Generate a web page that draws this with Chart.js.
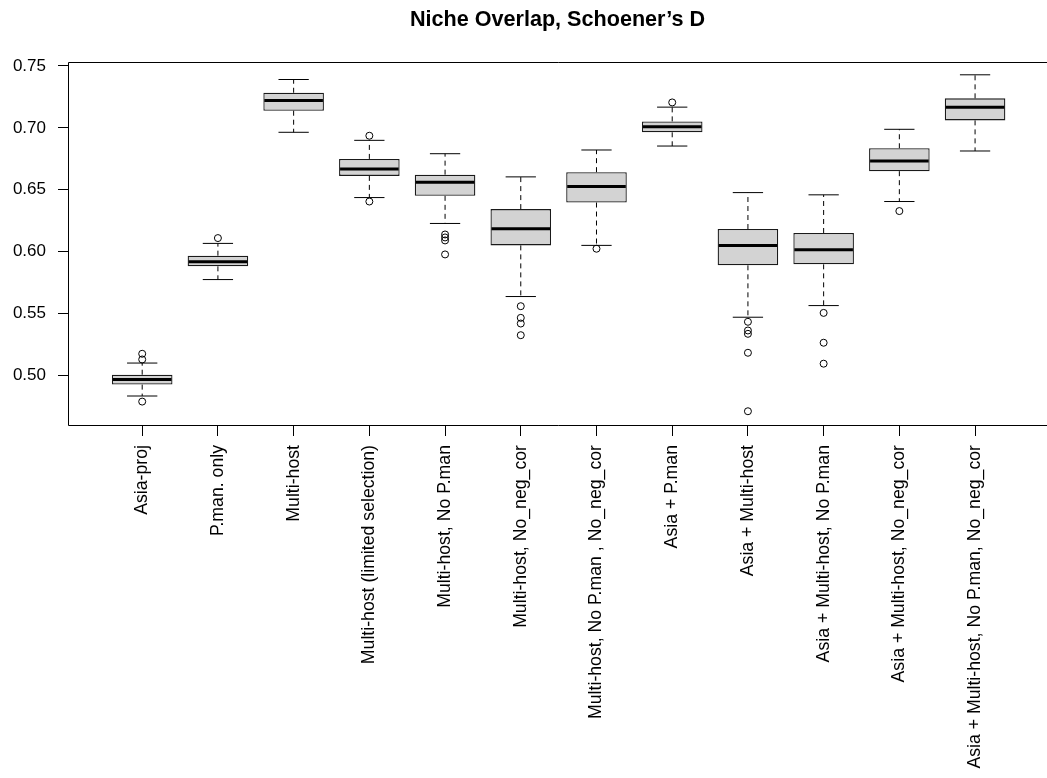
<!DOCTYPE html>
<html>
<head>
<meta charset="utf-8">
<script src="https://cdn.jsdelivr.net/npm/chart.js@4.4.1/dist/chart.umd.min.js"></script>
<style>
  html, body { margin: 0; padding: 0; background: #fff; }
  #wrap { width: 1047px; height: 778px; }
</style>
</head>
<body>
<div id="wrap"><canvas id="c" width="1047" height="778"></canvas></div>
<script>
const categories = [
  "Asia-proj",
  "P.man. only",
  "Multi-host",
  "Multi-host (limited selection)",
  "Multi-host, No P.man",
  "Multi-host, No_neg_cor",
  "Multi-host, No P.man , No_neg_cor",
  "Asia + P.man",
  "Asia + Multi-host",
  "Asia + Multi-host, No P.man",
  "Asia + Multi-host, No_neg_cor",
  "Asia + Multi-host, No P.man, No_neg_cor"
];
const whiskerLow  = [0.4835, 0.5775, 0.6964, 0.6437, 0.6228, 0.5638, 0.6051, 0.6853, 0.5471, 0.5565, 0.6405, 0.6813];
const q1          = [0.4927, 0.5882, 0.7138, 0.6612, 0.6451, 0.6051, 0.6397, 0.6964, 0.5890, 0.5898, 0.6650, 0.7060];
const medians     = [0.4969, 0.5919, 0.7221, 0.6668, 0.6561, 0.6185, 0.6526, 0.7009, 0.6051, 0.6016, 0.6733, 0.7167];
const q3          = [0.5007, 0.5968, 0.7283, 0.6749, 0.6622, 0.6344, 0.6642, 0.7052, 0.6183, 0.6151, 0.6835, 0.7238];
const whiskerHigh = [0.5101, 0.6067, 0.7390, 0.6899, 0.6791, 0.6604, 0.6821, 0.7167, 0.6477, 0.6459, 0.6988, 0.7428];
const outliers = [
  [0.5176, 0.5130, 0.4790],
  [0.6110],
  [],
  [0.6936, 0.6405],
  [0.6139, 0.6115, 0.6091, 0.5978],
  [0.5560, 0.5466, 0.5420, 0.5326],
  [0.6024],
  [0.7205],
  [0.5434, 0.5364, 0.5337, 0.5184, 0.4712],
  [0.5506, 0.5265, 0.5096],
  [0.6328],
  []
];
const yTickValues = [0.50, 0.55, 0.60, 0.65, 0.70, 0.75];
const titleText = "Niche Overlap, Schoener\u2019s D";

const FONT = "'Liberation Sans', Arial, sans-serif";

const boxData = categories.map((c, i) => ({ x: i + 1, y: [q1[i], q3[i]] }));
const outlierData = [];
outliers.forEach((arr, i) => arr.forEach(v => outlierData.push({ x: i + 1, y: v })));

const boxPlugin = {
  id: 'boxParts',
  afterDatasetsDraw(chart) {
    const ctx = chart.ctx;
    const xs = chart.scales.x, ys = chart.scales.y;
    const meta = chart.getDatasetMeta(0);
    ctx.save();
    categories.forEach((c, i) => {
      const bar = meta.data[i];
      const half = bar.width / 2;
      const cx = xs.getPixelForValue(i + 1);
      const capHalf = half / 2;
      const yLo = ys.getPixelForValue(whiskerLow[i]);
      const yHi = ys.getPixelForValue(whiskerHigh[i]);
      const yQ1 = ys.getPixelForValue(q1[i]);
      const yQ3 = ys.getPixelForValue(q3[i]);
      const yMed = ys.getPixelForValue(medians[i]);
      ctx.strokeStyle = '#000';
      ctx.lineWidth = 1;
      ctx.setLineDash([5, 4]);
      ctx.beginPath();
      ctx.moveTo(cx, yQ3); ctx.lineTo(cx, yHi);
      ctx.moveTo(cx, yQ1); ctx.lineTo(cx, yLo);
      ctx.stroke();
      ctx.setLineDash([]);
      ctx.beginPath();
      ctx.moveTo(cx - capHalf, yHi); ctx.lineTo(cx + capHalf, yHi);
      ctx.moveTo(cx - capHalf, yLo); ctx.lineTo(cx + capHalf, yLo);
      ctx.stroke();
      ctx.lineWidth = 3;
      ctx.lineCap = 'butt';
      ctx.beginPath();
      ctx.moveTo(cx - half + 1, yMed); ctx.lineTo(cx + half - 1, yMed);
      ctx.stroke();
    });
    const a = chart.chartArea;
    ctx.lineWidth = 1;
    ctx.strokeStyle = '#000';
    ctx.beginPath();
    ctx.moveTo(a.right + 2, Math.round(a.top) + 0.5);
    ctx.lineTo(Math.round(a.left) + 0.5, Math.round(a.top) + 0.5);
    ctx.lineTo(Math.round(a.left) + 0.5, Math.round(a.bottom) + 0.5);
    ctx.lineTo(a.right + 2, Math.round(a.bottom) + 0.5);
    ctx.stroke();
    ctx.restore();
  }
};

new Chart(document.getElementById('c'), {
  type: 'bar',
  data: {
    datasets: [
      {
        type: 'bar',
        label: 'box',
        data: boxData,
        backgroundColor: '#D3D3D3',
        borderColor: '#1a1a1a',
        borderWidth: 1.3,
        borderSkipped: false,
        barPercentage: 0.8,
        categoryPercentage: 1.0,
        order: 2
      },
      {
        type: 'scatter',
        label: 'outliers',
        data: outlierData,
        showLine: false,
        pointRadius: 3.5,
        pointHoverRadius: 3.5,
        pointBorderWidth: 1,
        pointBorderColor: '#000',
        pointBackgroundColor: 'rgba(0,0,0,0)',
        order: 1
      }
    ]
  },
  options: {
    responsive: false,
    animation: false,
    devicePixelRatio: 1,
    layout: { autoPadding: false, padding: { left: 0, right: 0, top: 0, bottom: 0 } },
    plugins: {
      legend: { display: false },
      tooltip: { enabled: false },
      title: {
        display: true,
        text: titleText,
        fullSize: false,
        color: '#000',
        font: { family: FONT, size: 21.6, weight: 'bold', lineHeight: 1.2 },
        padding: { top: 7, bottom: 29 }
      }
    },
    scales: {
      x: {
        type: 'linear',
        min: 0.02,
        max: 12.95,
        offset: false,
        afterFit(scale) { scale.height = 353; scale.paddingLeft = 0; scale.paddingRight = 0; },
        afterBuildTicks(scale) { scale.ticks = categories.map((c, i) => ({ value: i + 1 })); },
        border: { display: false },
        grid: { display: true, drawOnChartArea: false, drawTicks: true, tickLength: 11, color: '#000', offset: false },
        ticks: {
          autoSkip: false,
          maxRotation: 90,
          minRotation: 90,
          padding: 9,
          color: '#000',
          font: { family: FONT, size: 17.7 },
          callback: (v) => categories[Math.round(v) - 1]
        }
      },
      y: {
        type: 'linear',
        min: 0.4601,
        max: 0.7532,
        afterFit(scale) { scale.width = 68; scale.paddingTop = 0; scale.paddingBottom = 0; },
        afterBuildTicks(scale) { scale.ticks = yTickValues.map(v => ({ value: v })); },
        border: { display: false },
        grid: { display: true, drawOnChartArea: false, drawTicks: true, tickLength: 10, color: '#000' },
        ticks: {
          padding: 12,
          color: '#000',
          font: { family: FONT, size: 17 },
          callback: (v) => v.toFixed(2)
        }
      }
    }
  },
  plugins: [boxPlugin]
});
</script>
</body>
</html>
